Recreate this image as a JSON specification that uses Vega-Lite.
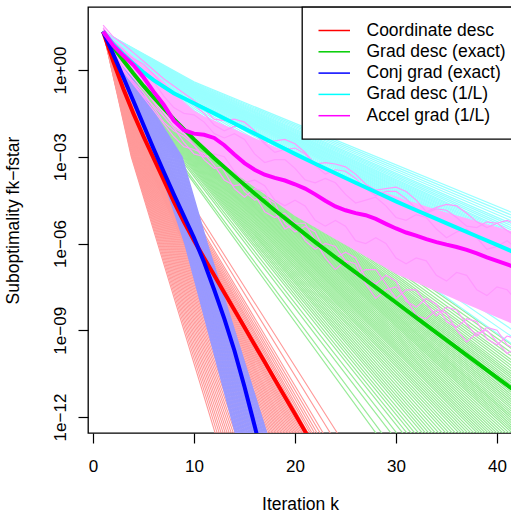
{
"$schema": "https://vega.github.io/schema/vega-lite/v6.json",
"width": 429, "height": 426,
"autosize": {"type": "none"},
"padding": {"left": 88, "top": 7, "right": -6, "bottom": 81},
"background": "white",
"config": {
 "view": {"stroke": "black", "strokeWidth": 1.3},
 "font": "Liberation Sans",
 "axis": {"labelFont": "Liberation Sans", "titleFont": "Liberation Sans", "labelColor": "black", "titleColor": "black", "tickColor": "black", "grid": false, "domain": false, "labelFontSize": 17, "titleFontSize": 17.5, "titleFontWeight": "normal", "tickSize": 10, "tickWidth": 1.2, "labelFlush": false, "labelOverlap": false, "labelBound": false},
 "legend": {"symbolType": "M-0.8,0H2.8", "symbolSize": 306, "symbolStrokeWidth": 1.5, "labelFont": "Liberation Sans", "labelFontSize": 17.5, "labelColor": "black", "labelLimit": 400, "padding": 14, "rowPadding": 3.3, "labelOffset": 31.5, "strokeColor": "black", "fillColor": "white", "cornerRadius": 0, "strokeWidth": 1.3}
},
"datasets": {
"cd": [
{"t":1,"k":1,"v":21.4},{"t":1,"k":3.79,"v":0.001},{"t":1,"k":12.48,"v":1e-13},
{"t":2,"k":1,"v":21.4},{"t":2,"k":3.89,"v":0.001},{"t":2,"k":12.90,"v":1e-13},
{"t":3,"k":1,"v":21.4},{"t":3,"k":3.99,"v":0.001},{"t":3,"k":13.31,"v":1e-13},
{"t":4,"k":1,"v":21.4},{"t":4,"k":4.09,"v":0.001},{"t":4,"k":13.72,"v":1e-13},
{"t":5,"k":1,"v":21.4},{"t":5,"k":4.19,"v":0.001},{"t":5,"k":14.14,"v":1e-13},
{"t":6,"k":1,"v":21.4},{"t":6,"k":4.29,"v":0.001},{"t":6,"k":14.55,"v":1e-13},
{"t":7,"k":1,"v":21.4},{"t":7,"k":4.39,"v":0.001},{"t":7,"k":14.97,"v":1e-13},
{"t":8,"k":1,"v":21.4},{"t":8,"k":4.49,"v":0.001},{"t":8,"k":15.38,"v":1e-13},
{"t":9,"k":1,"v":21.4},{"t":9,"k":4.59,"v":0.001},{"t":9,"k":15.79,"v":1e-13},
{"t":10,"k":1,"v":21.4},{"t":10,"k":4.69,"v":0.001},{"t":10,"k":16.21,"v":1e-13},
{"t":11,"k":1,"v":21.4},{"t":11,"k":4.79,"v":0.001},{"t":11,"k":16.62,"v":1e-13},
{"t":12,"k":1,"v":21.4},{"t":12,"k":4.89,"v":0.001},{"t":12,"k":17.03,"v":1e-13},
{"t":13,"k":1,"v":21.4},{"t":13,"k":4.99,"v":0.001},{"t":13,"k":17.45,"v":1e-13},
{"t":14,"k":1,"v":21.4},{"t":14,"k":5.09,"v":0.001},{"t":14,"k":17.86,"v":1e-13},
{"t":15,"k":1,"v":21.4},{"t":15,"k":5.17,"v":0.001},{"t":15,"k":18.17,"v":1e-13},
{"t":16,"k":1,"v":21.4},{"t":16,"k":5.25,"v":0.001},{"t":16,"k":18.48,"v":1e-13},
{"t":17,"k":1,"v":21.4},{"t":17,"k":5.32,"v":0.001},{"t":17,"k":18.79,"v":1e-13},
{"t":18,"k":1,"v":21.4},{"t":18,"k":5.40,"v":0.001},{"t":18,"k":19.10,"v":1e-13},
{"t":19,"k":1,"v":21.4},{"t":19,"k":5.47,"v":0.001},{"t":19,"k":19.41,"v":1e-13},
{"t":20,"k":1,"v":21.4},{"t":20,"k":5.55,"v":0.001},{"t":20,"k":19.72,"v":1e-13},
{"t":21,"k":1,"v":21.4},{"t":21,"k":5.62,"v":0.001},{"t":21,"k":20.03,"v":1e-13},
{"t":22,"k":1,"v":21.4},{"t":22,"k":5.70,"v":0.001},{"t":22,"k":20.35,"v":1e-13},
{"t":23,"k":1,"v":21.4},{"t":23,"k":5.77,"v":0.001},{"t":23,"k":20.66,"v":1e-13},
{"t":24,"k":1,"v":21.4},{"t":24,"k":5.85,"v":0.001},{"t":24,"k":20.97,"v":1e-13},
{"t":25,"k":1,"v":21.4},{"t":25,"k":5.92,"v":0.001},{"t":25,"k":21.28,"v":1e-13},
{"t":26,"k":1,"v":21.4},{"t":26,"k":6.00,"v":0.001},{"t":26,"k":21.59,"v":1e-13},
{"t":27,"k":1,"v":21.4},{"t":27,"k":6.10,"v":0.001},{"t":27,"k":22.00,"v":1e-13},
{"t":28,"k":1,"v":21.4},{"t":28,"k":6.20,"v":0.001},{"t":28,"k":22.41,"v":1e-13},
{"t":29,"k":1,"v":21.4},{"t":29,"k":6.33,"v":0.001},{"t":29,"k":22.93,"v":1e-13},
{"t":30,"k":1,"v":21.4},{"t":30,"k":6.48,"v":0.001},{"t":30,"k":23.55,"v":1e-13},
{"t":31,"k":1,"v":21.4},{"t":31,"k":6.65,"v":0.001},{"t":31,"k":24.28,"v":1e-13},
{"t":32,"k":1,"v":21.4},{"t":32,"k":6.83,"v":0.001},{"t":32,"k":25.00,"v":1e-13},
{"t":33,"k":1,"v":21.4},{"t":33,"k":3.84,"v":0.001},{"t":33,"k":12.69,"v":1e-13},
{"t":34,"k":1,"v":21.4},{"t":34,"k":3.94,"v":0.001},{"t":34,"k":13.10,"v":1e-13},
{"t":35,"k":1,"v":21.4},{"t":35,"k":4.04,"v":0.001},{"t":35,"k":13.52,"v":1e-13},
{"t":36,"k":1,"v":21.4},{"t":36,"k":4.14,"v":0.001},{"t":36,"k":13.93,"v":1e-13},
{"t":37,"k":1,"v":21.4},{"t":37,"k":4.24,"v":0.001},{"t":37,"k":14.35,"v":1e-13},
{"t":38,"k":1,"v":21.4},{"t":38,"k":4.34,"v":0.001},{"t":38,"k":14.76,"v":1e-13},
{"t":39,"k":1,"v":21.4},{"t":39,"k":4.44,"v":0.001},{"t":39,"k":15.17,"v":1e-13},
{"t":40,"k":1,"v":21.4},{"t":40,"k":4.54,"v":0.001},{"t":40,"k":15.59,"v":1e-13},
{"t":41,"k":1,"v":21.4},{"t":41,"k":4.64,"v":0.001},{"t":41,"k":16.00,"v":1e-13},
{"t":42,"k":1,"v":21.4},{"t":42,"k":4.74,"v":0.001},{"t":42,"k":16.41,"v":1e-13},
{"t":43,"k":1,"v":21.4},{"t":43,"k":4.84,"v":0.001},{"t":43,"k":16.83,"v":1e-13},
{"t":44,"k":1,"v":21.4},{"t":44,"k":4.94,"v":0.001},{"t":44,"k":17.24,"v":1e-13},
{"t":45,"k":1,"v":21.4},{"t":45,"k":5.04,"v":0.001},{"t":45,"k":17.66,"v":1e-13},
{"t":46,"k":1,"v":21.4},{"t":46,"k":5.13,"v":0.001},{"t":46,"k":18.02,"v":1e-13},
{"t":47,"k":1,"v":21.4},{"t":47,"k":5.21,"v":0.001},{"t":47,"k":18.33,"v":1e-13},
{"t":48,"k":1,"v":21.4},{"t":48,"k":5.28,"v":0.001},{"t":48,"k":18.64,"v":1e-13},
{"t":49,"k":1,"v":21.4},{"t":49,"k":5.36,"v":0.001},{"t":49,"k":18.95,"v":1e-13},
{"t":50,"k":1,"v":21.4},{"t":50,"k":5.43,"v":0.001},{"t":50,"k":19.26,"v":1e-13},
{"t":51,"k":1,"v":21.4},{"t":51,"k":5.51,"v":0.001},{"t":51,"k":19.57,"v":1e-13},
{"t":52,"k":1,"v":21.4},{"t":52,"k":5.58,"v":0.001},{"t":52,"k":19.88,"v":1e-13},
{"t":53,"k":1,"v":21.4},{"t":53,"k":5.66,"v":0.001},{"t":53,"k":20.19,"v":1e-13},
{"t":54,"k":1,"v":21.4},{"t":54,"k":5.74,"v":0.001},{"t":54,"k":20.50,"v":1e-13},
{"t":55,"k":1,"v":21.4},{"t":55,"k":5.81,"v":0.001},{"t":55,"k":20.81,"v":1e-13},
{"t":56,"k":1,"v":21.4},{"t":56,"k":5.89,"v":0.001},{"t":56,"k":21.12,"v":1e-13},
{"t":57,"k":1,"v":21.4},{"t":57,"k":5.96,"v":0.001},{"t":57,"k":21.43,"v":1e-13},
{"t":58,"k":1,"v":21.4},{"t":58,"k":6.05,"v":0.001},{"t":58,"k":21.79,"v":1e-13},
{"t":59,"k":1,"v":21.4},{"t":59,"k":6.15,"v":0.001},{"t":59,"k":22.21,"v":1e-13},
{"t":60,"k":1,"v":21.4},{"t":60,"k":6.26,"v":0.001},{"t":60,"k":22.67,"v":1e-13},
{"t":61,"k":1,"v":21.4},{"t":61,"k":6.40,"v":0.001},{"t":61,"k":23.24,"v":1e-13}
],
"gd": [
{"t":1,"k":1,"v":21.4},{"t":1,"k":6.76,"v":0.1},{"t":1,"k":55.74,"v":1e-13},
{"t":2,"k":1,"v":21.4},{"t":2,"k":6.60,"v":0.1},{"t":2,"k":54.22,"v":1e-13},
{"t":3,"k":1,"v":21.4},{"t":3,"k":6.47,"v":0.1},{"t":3,"k":52.98,"v":1e-13},
{"t":4,"k":1,"v":21.4},{"t":4,"k":6.37,"v":0.1},{"t":4,"k":52.00,"v":1e-13},
{"t":5,"k":1,"v":21.4},{"t":5,"k":6.27,"v":0.1},{"t":5,"k":51.04,"v":1e-13},
{"t":6,"k":1,"v":21.4},{"t":6,"k":6.19,"v":0.1},{"t":6,"k":50.31,"v":1e-13},
{"t":7,"k":1,"v":21.4},{"t":7,"k":6.12,"v":0.1},{"t":7,"k":49.59,"v":1e-13},
{"t":8,"k":1,"v":21.4},{"t":8,"k":6.04,"v":0.1},{"t":8,"k":48.90,"v":1e-13},
{"t":9,"k":1,"v":21.4},{"t":9,"k":5.97,"v":0.1},{"t":9,"k":48.23,"v":1e-13},
{"t":10,"k":1,"v":21.4},{"t":10,"k":5.90,"v":0.1},{"t":10,"k":47.57,"v":1e-13},
{"t":11,"k":1,"v":21.4},{"t":11,"k":5.84,"v":0.1},{"t":11,"k":46.93,"v":1e-13},
{"t":12,"k":1,"v":21.4},{"t":12,"k":5.77,"v":0.1},{"t":12,"k":46.31,"v":1e-13},
{"t":13,"k":1,"v":21.4},{"t":13,"k":5.71,"v":0.1},{"t":13,"k":45.71,"v":1e-13},
{"t":14,"k":1,"v":21.4},{"t":14,"k":5.64,"v":0.1},{"t":14,"k":45.12,"v":1e-13},
{"t":15,"k":1,"v":21.4},{"t":15,"k":5.58,"v":0.1},{"t":15,"k":44.55,"v":1e-13},
{"t":16,"k":1,"v":21.4},{"t":16,"k":5.53,"v":0.1},{"t":16,"k":43.99,"v":1e-13},
{"t":17,"k":1,"v":21.4},{"t":17,"k":5.47,"v":0.1},{"t":17,"k":43.44,"v":1e-13},
{"t":18,"k":1,"v":21.4},{"t":18,"k":5.41,"v":0.1},{"t":18,"k":42.91,"v":1e-13},
{"t":19,"k":1,"v":21.4},{"t":19,"k":5.34,"v":0.1},{"t":19,"k":42.27,"v":1e-13},
{"t":20,"k":1,"v":21.4},{"t":20,"k":5.28,"v":0.1},{"t":20,"k":41.64,"v":1e-13},
{"t":21,"k":1,"v":21.4},{"t":21,"k":5.21,"v":0.1},{"t":21,"k":41.04,"v":1e-13},
{"t":22,"k":1,"v":21.4},{"t":22,"k":5.15,"v":0.1},{"t":22,"k":40.45,"v":1e-13},
{"t":23,"k":1,"v":21.4},{"t":23,"k":5.09,"v":0.1},{"t":23,"k":39.88,"v":1e-13},
{"t":24,"k":1,"v":21.4},{"t":24,"k":5.03,"v":0.1},{"t":24,"k":39.32,"v":1e-13},
{"t":25,"k":1,"v":21.4},{"t":25,"k":4.97,"v":0.1},{"t":25,"k":38.67,"v":1e-13},
{"t":26,"k":1,"v":21.4},{"t":26,"k":4.90,"v":0.1},{"t":26,"k":38.05,"v":1e-13},
{"t":27,"k":1,"v":21.4},{"t":27,"k":4.84,"v":0.1},{"t":27,"k":37.45,"v":1e-13},
{"t":28,"k":1,"v":21.4},{"t":28,"k":4.77,"v":0.1},{"t":28,"k":36.77,"v":1e-13},
{"t":29,"k":1,"v":21.4},{"t":29,"k":4.70,"v":0.1},{"t":29,"k":36.11,"v":1e-13},
{"t":30,"k":1,"v":21.4},{"t":30,"k":4.62,"v":0.1},{"t":30,"k":35.39,"v":1e-13},
{"t":31,"k":1,"v":21.4},{"t":31,"k":4.55,"v":0.1},{"t":31,"k":34.70,"v":1e-13},
{"t":32,"k":1,"v":21.4},{"t":32,"k":4.48,"v":0.1},{"t":32,"k":34.03,"v":1e-13},
{"t":33,"k":1,"v":21.4},{"t":33,"k":4.40,"v":0.1},{"t":33,"k":33.32,"v":1e-13},
{"t":34,"k":1,"v":21.4},{"t":34,"k":4.32,"v":0.1},{"t":34,"k":32.56,"v":1e-13},
{"t":35,"k":1,"v":21.4},{"t":35,"k":4.23,"v":0.1},{"t":35,"k":31.69,"v":1e-13},
{"t":36,"k":1,"v":21.4},{"t":36,"k":4.10,"v":0.1},{"t":36,"k":30.48,"v":1e-13},
{"t":37,"k":1,"v":21.4},{"t":37,"k":4.00,"v":0.1},{"t":37,"k":29.54,"v":1e-13},
{"t":38,"k":1,"v":21.4},{"t":38,"k":3.94,"v":0.1},{"t":38,"k":28.94,"v":1e-13},
{"t":39,"k":1,"v":21.4},{"t":39,"k":6.68,"v":0.1},{"t":39,"k":54.97,"v":1e-13},
{"t":40,"k":1,"v":21.4},{"t":40,"k":6.54,"v":0.1},{"t":40,"k":53.60,"v":1e-13},
{"t":41,"k":1,"v":21.4},{"t":41,"k":6.42,"v":0.1},{"t":41,"k":52.49,"v":1e-13},
{"t":42,"k":1,"v":21.4},{"t":42,"k":6.32,"v":0.1},{"t":42,"k":51.52,"v":1e-13},
{"t":43,"k":1,"v":21.4},{"t":43,"k":6.23,"v":0.1},{"t":43,"k":50.67,"v":1e-13},
{"t":44,"k":1,"v":21.4},{"t":44,"k":6.15,"v":0.1},{"t":44,"k":49.95,"v":1e-13},
{"t":45,"k":1,"v":21.4},{"t":45,"k":6.08,"v":0.1},{"t":45,"k":49.24,"v":1e-13},
{"t":46,"k":1,"v":21.4},{"t":46,"k":6.01,"v":0.1},{"t":46,"k":48.56,"v":1e-13},
{"t":47,"k":1,"v":21.4},{"t":47,"k":5.94,"v":0.1},{"t":47,"k":47.90,"v":1e-13},
{"t":48,"k":1,"v":21.4},{"t":48,"k":5.87,"v":0.1},{"t":48,"k":47.25,"v":1e-13},
{"t":49,"k":1,"v":21.4},{"t":49,"k":5.80,"v":0.1},{"t":49,"k":46.62,"v":1e-13},
{"t":50,"k":1,"v":21.4},{"t":50,"k":5.74,"v":0.1},{"t":50,"k":46.01,"v":1e-13},
{"t":51,"k":1,"v":21.4},{"t":51,"k":5.68,"v":0.1},{"t":51,"k":45.41,"v":1e-13},
{"t":52,"k":1,"v":21.4},{"t":52,"k":5.61,"v":0.1},{"t":52,"k":44.83,"v":1e-13},
{"t":53,"k":1,"v":21.4},{"t":53,"k":5.55,"v":0.1},{"t":53,"k":44.26,"v":1e-13},
{"t":54,"k":1,"v":21.4},{"t":54,"k":5.50,"v":0.1},{"t":54,"k":43.71,"v":1e-13},
{"t":55,"k":1,"v":21.4},{"t":55,"k":5.44,"v":0.1},{"t":55,"k":43.18,"v":1e-13},
{"t":56,"k":1,"v":21.4},{"t":56,"k":5.38,"v":0.1},{"t":56,"k":42.59,"v":1e-13},
{"t":57,"k":1,"v":21.4},{"t":57,"k":5.31,"v":0.1},{"t":57,"k":41.95,"v":1e-13},
{"t":58,"k":1,"v":21.4},{"t":58,"k":5.25,"v":0.1},{"t":58,"k":41.34,"v":1e-13},
{"t":59,"k":1,"v":21.4},{"t":59,"k":5.18,"v":0.1},{"t":59,"k":40.74,"v":1e-13},
{"t":60,"k":1,"v":21.4},{"t":60,"k":5.12,"v":0.1},{"t":60,"k":40.16,"v":1e-13},
{"t":61,"k":1,"v":21.4},{"t":61,"k":5.06,"v":0.1},{"t":61,"k":39.60,"v":1e-13},
{"t":62,"k":1,"v":21.4},{"t":62,"k":5.00,"v":0.1},{"t":62,"k":38.99,"v":1e-13},
{"t":63,"k":1,"v":21.4},{"t":63,"k":4.93,"v":0.1},{"t":63,"k":38.36,"v":1e-13},
{"t":64,"k":1,"v":21.4},{"t":64,"k":4.87,"v":0.1},{"t":64,"k":37.75,"v":1e-13},
{"t":65,"k":1,"v":21.4},{"t":65,"k":4.80,"v":0.1},{"t":65,"k":37.10,"v":1e-13},
{"t":66,"k":1,"v":21.4},{"t":66,"k":4.73,"v":0.1},{"t":66,"k":36.43,"v":1e-13},
{"t":67,"k":1,"v":21.4},{"t":67,"k":4.66,"v":0.1},{"t":67,"k":35.75,"v":1e-13},
{"t":68,"k":1,"v":21.4},{"t":68,"k":4.58,"v":0.1},{"t":68,"k":35.04,"v":1e-13},
{"t":69,"k":1,"v":21.4},{"t":69,"k":4.51,"v":0.1},{"t":69,"k":34.36,"v":1e-13},
{"t":70,"k":1,"v":21.4},{"t":70,"k":4.44,"v":0.1},{"t":70,"k":33.71,"v":1e-13},
{"t":71,"k":1,"v":21.4},{"t":71,"k":4.36,"v":0.1},{"t":71,"k":32.93,"v":1e-13},
{"t":72,"k":1,"v":21.4},{"t":72,"k":4.28,"v":0.1},{"t":72,"k":32.12,"v":1e-13},
{"t":73,"k":1,"v":21.4},{"t":73,"k":4.17,"v":0.1},{"t":73,"k":31.07,"v":1e-13}
],
"cg": [
{"t":1,"k":1,"v":21.4},{"t":1,"k":6.20,"v":0.001},{"t":1,"k":9.10,"v":1e-6},{"t":1,"k":14.44,"v":1e-13},
{"t":2,"k":1,"v":21.4},{"t":2,"k":6.39,"v":0.001},{"t":2,"k":9.26,"v":1e-6},{"t":2,"k":14.66,"v":1e-13},
{"t":3,"k":1,"v":21.4},{"t":3,"k":6.57,"v":0.001},{"t":3,"k":9.41,"v":1e-6},{"t":3,"k":14.89,"v":1e-13},
{"t":4,"k":1,"v":21.4},{"t":4,"k":6.76,"v":0.001},{"t":4,"k":9.57,"v":1e-6},{"t":4,"k":15.12,"v":1e-13},
{"t":5,"k":1,"v":21.4},{"t":5,"k":6.94,"v":0.001},{"t":5,"k":9.73,"v":1e-6},{"t":5,"k":15.34,"v":1e-13},
{"t":6,"k":1,"v":21.4},{"t":6,"k":7.13,"v":0.001},{"t":6,"k":9.89,"v":1e-6},{"t":6,"k":15.57,"v":1e-13},
{"t":7,"k":1,"v":21.4},{"t":7,"k":7.31,"v":0.001},{"t":7,"k":10.04,"v":1e-6},{"t":7,"k":15.80,"v":1e-13},
{"t":8,"k":1,"v":21.4},{"t":8,"k":7.50,"v":0.001},{"t":8,"k":10.20,"v":1e-6},{"t":8,"k":16.02,"v":1e-13},
{"t":9,"k":1,"v":21.4},{"t":9,"k":7.68,"v":0.001},{"t":9,"k":10.36,"v":1e-6},{"t":9,"k":16.24,"v":1e-13},
{"t":10,"k":1,"v":21.4},{"t":10,"k":7.87,"v":0.001},{"t":10,"k":10.51,"v":1e-6},{"t":10,"k":16.47,"v":1e-13},
{"t":11,"k":1,"v":21.4},{"t":11,"k":8.06,"v":0.001},{"t":11,"k":10.67,"v":1e-6},{"t":11,"k":16.70,"v":1e-13},
{"t":12,"k":1,"v":21.4},{"t":12,"k":8.24,"v":0.001},{"t":12,"k":10.83,"v":1e-6},{"t":12,"k":16.92,"v":1e-13},
{"t":13,"k":1,"v":21.4},{"t":13,"k":8.43,"v":0.001},{"t":13,"k":10.99,"v":1e-6},{"t":13,"k":17.15,"v":1e-13},
{"t":14,"k":1,"v":21.4},{"t":14,"k":8.61,"v":0.001},{"t":14,"k":11.14,"v":1e-6},{"t":14,"k":17.38,"v":1e-13},
{"t":15,"k":1,"v":21.4},{"t":15,"k":8.80,"v":0.001},{"t":15,"k":11.30,"v":1e-6},{"t":15,"k":17.60,"v":1e-13},
{"t":16,"k":1,"v":21.4},{"t":16,"k":6.29,"v":0.001},{"t":16,"k":9.18,"v":1e-6},{"t":16,"k":14.55,"v":1e-13},
{"t":17,"k":1,"v":21.4},{"t":17,"k":6.48,"v":0.001},{"t":17,"k":9.34,"v":1e-6},{"t":17,"k":14.78,"v":1e-13},
{"t":18,"k":1,"v":21.4},{"t":18,"k":6.67,"v":0.001},{"t":18,"k":9.49,"v":1e-6},{"t":18,"k":15.01,"v":1e-13},
{"t":19,"k":1,"v":21.4},{"t":19,"k":6.85,"v":0.001},{"t":19,"k":9.65,"v":1e-6},{"t":19,"k":15.23,"v":1e-13},
{"t":20,"k":1,"v":21.4},{"t":20,"k":7.03,"v":0.001},{"t":20,"k":9.81,"v":1e-6},{"t":20,"k":15.45,"v":1e-13},
{"t":21,"k":1,"v":21.4},{"t":21,"k":7.22,"v":0.001},{"t":21,"k":9.96,"v":1e-6},{"t":21,"k":15.68,"v":1e-13},
{"t":22,"k":1,"v":21.4},{"t":22,"k":7.41,"v":0.001},{"t":22,"k":10.12,"v":1e-6},{"t":22,"k":15.91,"v":1e-13},
{"t":23,"k":1,"v":21.4},{"t":23,"k":7.59,"v":0.001},{"t":23,"k":10.28,"v":1e-6},{"t":23,"k":16.13,"v":1e-13},
{"t":24,"k":1,"v":21.4},{"t":24,"k":7.78,"v":0.001},{"t":24,"k":10.44,"v":1e-6},{"t":24,"k":16.36,"v":1e-13},
{"t":25,"k":1,"v":21.4},{"t":25,"k":7.97,"v":0.001},{"t":25,"k":10.59,"v":1e-6},{"t":25,"k":16.59,"v":1e-13},
{"t":26,"k":1,"v":21.4},{"t":26,"k":8.15,"v":0.001},{"t":26,"k":10.75,"v":1e-6},{"t":26,"k":16.81,"v":1e-13},
{"t":27,"k":1,"v":21.4},{"t":27,"k":8.33,"v":0.001},{"t":27,"k":10.91,"v":1e-6},{"t":27,"k":17.03,"v":1e-13},
{"t":28,"k":1,"v":21.4},{"t":28,"k":8.52,"v":0.001},{"t":28,"k":11.06,"v":1e-6},{"t":28,"k":17.26,"v":1e-13},
{"t":29,"k":1,"v":21.4},{"t":29,"k":8.71,"v":0.001},{"t":29,"k":11.22,"v":1e-6},{"t":29,"k":17.49,"v":1e-13}
],
"gdl": [
{"t":1,"k":1,"v":21.4},{"t":1,"k":10,"v":0.389},{"t":1,"k":42,"v":1e-5},
{"t":2,"k":1,"v":21.4},{"t":2,"k":10,"v":0.339},{"t":2,"k":42,"v":6.31e-6},
{"t":3,"k":1,"v":21.4},{"t":3,"k":10,"v":0.302},{"t":3,"k":42,"v":3.98e-6},
{"t":4,"k":1,"v":21.4},{"t":4,"k":10,"v":0.275},{"t":4,"k":42,"v":2.82e-6},
{"t":5,"k":1,"v":21.4},{"t":5,"k":10,"v":0.251},{"t":5,"k":42,"v":2.0e-6},
{"t":6,"k":1,"v":21.4},{"t":6,"k":10,"v":0.234},{"t":6,"k":42,"v":1.585e-6},
{"t":7,"k":1,"v":21.4},{"t":7,"k":10,"v":0.219},{"t":7,"k":42,"v":1.26e-6},
{"t":8,"k":1,"v":21.4},{"t":8,"k":10,"v":0.204},{"t":8,"k":42,"v":1e-6},
{"t":9,"k":1,"v":21.4},{"t":9,"k":10,"v":0.191},{"t":9,"k":42,"v":7.94e-7},
{"t":10,"k":1,"v":21.4},{"t":10,"k":10,"v":0.182},{"t":10,"k":42,"v":6.31e-7},
{"t":11,"k":1,"v":21.4},{"t":11,"k":10,"v":0.170},{"t":11,"k":42,"v":5.01e-7},
{"t":12,"k":1,"v":21.4},{"t":12,"k":10,"v":0.158},{"t":12,"k":42,"v":3.98e-7},
{"t":13,"k":1,"v":21.4},{"t":13,"k":10,"v":0.151},{"t":13,"k":42,"v":3.16e-7},
{"t":14,"k":1,"v":21.4},{"t":14,"k":10,"v":0.141},{"t":14,"k":42,"v":2.51e-7},
{"t":15,"k":1,"v":21.4},{"t":15,"k":10,"v":0.129},{"t":15,"k":42,"v":1.78e-7},
{"t":16,"k":1,"v":21.4},{"t":16,"k":10,"v":0.115},{"t":16,"k":42,"v":1.26e-7},
{"t":17,"k":1,"v":21.4},{"t":17,"k":10,"v":0.102},{"t":17,"k":42,"v":7.94e-8},
{"t":18,"k":1,"v":21.4},{"t":18,"k":10,"v":0.0871},{"t":18,"k":42,"v":4.47e-8},
{"t":19,"k":1,"v":21.4},{"t":19,"k":10,"v":0.0692},{"t":19,"k":42,"v":2.0e-8},
{"t":20,"k":1,"v":21.4},{"t":20,"k":10,"v":0.0537},{"t":20,"k":42,"v":7.94e-9},
{"t":21,"k":1,"v":21.4},{"t":21,"k":10,"v":0.0398},{"t":21,"k":42,"v":2.51e-9},
{"t":22,"k":1,"v":21.4},{"t":22,"k":10,"v":0.0288},{"t":22,"k":42,"v":7.94e-10},
{"t":23,"k":1,"v":21.4},{"t":23,"k":10,"v":0.0209},{"t":23,"k":42,"v":2.51e-10},
{"t":24,"k":1,"v":21.4},{"t":24,"k":10,"v":0.363},{"t":24,"k":42,"v":7.94e-6},
{"t":25,"k":1,"v":21.4},{"t":25,"k":10,"v":0.320},{"t":25,"k":42,"v":5.01e-6},
{"t":26,"k":1,"v":21.4},{"t":26,"k":10,"v":0.288},{"t":26,"k":42,"v":3.39e-6},
{"t":27,"k":1,"v":21.4},{"t":27,"k":10,"v":0.261},{"t":27,"k":42,"v":2.40e-6},
{"t":28,"k":1,"v":21.4},{"t":28,"k":10,"v":0.241},{"t":28,"k":42,"v":1.78e-6},
{"t":29,"k":1,"v":21.4},{"t":29,"k":10,"v":0.226},{"t":29,"k":42,"v":1.41e-6},
{"t":30,"k":1,"v":21.4},{"t":30,"k":10,"v":0.212},{"t":30,"k":42,"v":1.12e-6},
{"t":31,"k":1,"v":21.4},{"t":31,"k":10,"v":0.199},{"t":31,"k":42,"v":8.91e-7},
{"t":32,"k":1,"v":21.4},{"t":32,"k":10,"v":0.187},{"t":32,"k":42,"v":7.08e-7},
{"t":33,"k":1,"v":21.4},{"t":33,"k":10,"v":0.175},{"t":33,"k":42,"v":5.62e-7},
{"t":34,"k":1,"v":21.4},{"t":34,"k":10,"v":0.164},{"t":34,"k":42,"v":4.47e-7},
{"t":35,"k":1,"v":21.4},{"t":35,"k":10,"v":0.155},{"t":35,"k":42,"v":3.55e-7},
{"t":36,"k":1,"v":21.4},{"t":36,"k":10,"v":0.145},{"t":36,"k":42,"v":2.82e-7},
{"t":37,"k":1,"v":21.4},{"t":37,"k":10,"v":0.134},{"t":37,"k":42,"v":2.14e-7},
{"t":38,"k":1,"v":21.4},{"t":38,"k":10,"v":0.122},{"t":38,"k":42,"v":1.51e-7},
{"t":39,"k":1,"v":21.4},{"t":39,"k":10,"v":0.109},{"t":39,"k":42,"v":1e-7},
{"t":40,"k":1,"v":21.4},{"t":40,"k":10,"v":0.0962},{"t":40,"k":42,"v":6.31e-8},
{"t":41,"k":1,"v":21.4},{"t":41,"k":10,"v":0.0794},{"t":41,"k":42,"v":3.16e-8},
{"t":42,"k":1,"v":21.4},{"t":42,"k":10,"v":0.0617},{"t":42,"k":42,"v":1.26e-8},
{"t":43,"k":1,"v":21.4},{"t":43,"k":10,"v":0.0463},{"t":43,"k":42,"v":4.47e-9},
{"t":44,"k":1,"v":21.4},{"t":44,"k":10,"v":0.0337},{"t":44,"k":42,"v":1.41e-9},
{"t":45,"k":1,"v":21.4},{"t":45,"k":10,"v":0.0246},{"t":45,"k":42,"v":4.47e-10}
],
"agb": [
{"k":1,"v":15.8,"v2":31.6},{"k":2,"v":3.55,"v2":11.2},{"k":3,"v":1.26,"v2":5.62},{"k":4,"v":0.501,"v2":2.82},
{"k":5,"v":0.2,"v2":1.41},{"k":6,"v":0.0794,"v2":0.794},{"k":7,"v":0.0316,"v2":0.398},{"k":8,"v":0.0112,"v2":0.178},
{"k":9,"v":6.31e-3,"v2":0.0794},{"k":10,"v":3.16e-3,"v2":0.0398},{"k":11,"v":1.585e-3,"v2":0.0251},{"k":12,"v":8.91e-4,"v2":0.0178},
{"k":13,"v":5.01e-4,"v2":0.0126},{"k":14,"v":2.82e-4,"v2":8.91e-3},{"k":15,"v":1.585e-4,"v2":6.31e-3},{"k":16,"v":8.91e-5,"v2":4.47e-3},
{"k":17,"v":5.01e-5,"v2":3.16e-3},{"k":18,"v":2.82e-5,"v2":2.24e-3},{"k":19,"v":1.585e-5,"v2":1.585e-3},{"k":20,"v":8.91e-6,"v2":1.12e-3},
{"k":21,"v":5.62e-6,"v2":7.94e-4},{"k":22,"v":3.55e-6,"v2":5.62e-4},{"k":23,"v":2.24e-6,"v2":3.98e-4},{"k":24,"v":1.41e-6,"v2":2.82e-4},
{"k":25,"v":8.91e-7,"v2":2.0e-4},{"k":26,"v":5.62e-7,"v2":1.41e-4},{"k":27,"v":3.55e-7,"v2":1e-4},{"k":28,"v":2.24e-7,"v2":7.59e-5},
{"k":29,"v":1.41e-7,"v2":5.62e-5},{"k":30,"v":8.91e-8,"v2":4.27e-5},{"k":31,"v":6.31e-8,"v2":3.16e-5},{"k":32,"v":4.47e-8,"v2":2.51e-5},
{"k":33,"v":3.16e-8,"v2":1.905e-5},{"k":34,"v":2.24e-8,"v2":1.51e-5},{"k":35,"v":1.585e-8,"v2":1.175e-5},{"k":36,"v":1.12e-8,"v2":9.33e-6},
{"k":37,"v":7.94e-9,"v2":7.41e-6},{"k":38,"v":5.62e-9,"v2":5.89e-6},{"k":39,"v":3.98e-9,"v2":4.68e-6},{"k":40,"v":2.82e-9,"v2":3.72e-6},
{"k":41,"v":2.0e-9,"v2":2.95e-6},{"k":42,"v":1.41e-9,"v2":2.34e-6}
],
"ag": [
{"t":1,"k":1,"v":35.5},{"t":1,"k":2,"v":14.1},{"t":1,"k":3,"v":7.94},{"t":1,"k":4,"v":3.98},{"t":1,"k":5,"v":2.0},{"t":1,"k":6,"v":1.0},{"t":1,"k":7,"v":0.501},{"t":1,"k":8,"v":0.282},{"t":1,"k":9,"v":0.158},{"t":1,"k":10,"v":0.0891},{"t":1,"k":11,"v":0.0447},{"t":1,"k":12,"v":0.02},{"t":1,"k":13,"v":0.0178},{"t":1,"k":14,"v":0.02},{"t":1,"k":15,"v":0.0158},{"t":1,"k":16,"v":7.94e-3},{"t":1,"k":17,"v":3.16e-3},{"t":1,"k":18,"v":3.55e-3},{"t":1,"k":19,"v":3.98e-3},{"t":1,"k":20,"v":2.82e-3},{"t":1,"k":21,"v":1.41e-3},{"t":1,"k":22,"v":5.62e-4},{"t":1,"k":23,"v":6.31e-4},{"t":1,"k":24,"v":5.62e-4},{"t":1,"k":25,"v":4.47e-4},{"t":1,"k":26,"v":2.51e-4},{"t":1,"k":27,"v":1.12e-4},{"t":1,"k":28,"v":7.08e-5},{"t":1,"k":29,"v":7.94e-5},{"t":1,"k":30,"v":8.91e-5},{"t":1,"k":31,"v":6.31e-5},{"t":1,"k":32,"v":3.16e-5},{"t":1,"k":33,"v":1.26e-5},{"t":1,"k":34,"v":1.78e-5},{"t":1,"k":35,"v":2.24e-5},{"t":1,"k":36,"v":2.0e-5},{"t":1,"k":37,"v":1.12e-5},{"t":1,"k":38,"v":5.62e-6},{"t":1,"k":39,"v":3.55e-6},{"t":1,"k":40,"v":5.01e-6},{"t":1,"k":41,"v":6.31e-6},{"t":1,"k":42,"v":4.47e-6},
{"t":2,"k":1,"v":28.2},{"t":2,"k":2,"v":10},{"t":2,"k":3,"v":4.47},{"t":2,"k":4,"v":2.51},{"t":2,"k":5,"v":1.58},{"t":2,"k":6,"v":0.708},{"t":2,"k":7,"v":0.282},{"t":2,"k":8,"v":0.141},{"t":2,"k":9,"v":0.1},{"t":2,"k":10,"v":0.0631},{"t":2,"k":11,"v":0.0316},{"t":2,"k":12,"v":0.0126},{"t":2,"k":13,"v":7.94e-3},{"t":2,"k":14,"v":0.0112},{"t":2,"k":15,"v":0.0112},{"t":2,"k":16,"v":6.31e-3},{"t":2,"k":17,"v":2.82e-3},{"t":2,"k":18,"v":1.41e-3},{"t":2,"k":19,"v":1.78e-3},{"t":2,"k":20,"v":2.0e-3},{"t":2,"k":21,"v":1.26e-3},{"t":2,"k":22,"v":5.01e-4},{"t":2,"k":23,"v":2.51e-4},{"t":2,"k":24,"v":3.55e-4},{"t":2,"k":25,"v":3.16e-4},{"t":2,"k":26,"v":1.78e-4},{"t":2,"k":27,"v":7.94e-5},{"t":2,"k":28,"v":4.47e-5},{"t":2,"k":29,"v":6.31e-5},{"t":2,"k":30,"v":6.31e-5},{"t":2,"k":31,"v":3.55e-5},{"t":2,"k":32,"v":1.58e-5},{"t":2,"k":33,"v":1.12e-5},{"t":2,"k":34,"v":1.58e-5},{"t":2,"k":35,"v":1.41e-5},{"t":2,"k":36,"v":7.94e-6},{"t":2,"k":37,"v":3.98e-6},{"t":2,"k":38,"v":3.55e-6},{"t":2,"k":39,"v":5.62e-6},{"t":2,"k":40,"v":5.01e-6},{"t":2,"k":41,"v":2.82e-6},{"t":2,"k":42,"v":1.58e-6},
{"t":3,"k":1,"v":17.8},{"t":3,"k":2,"v":3.16},{"t":3,"k":3,"v":0.891},{"t":3,"k":4,"v":0.316},{"t":3,"k":5,"v":0.112},{"t":3,"k":6,"v":0.0398},{"t":3,"k":7,"v":0.0141},{"t":3,"k":8,"v":5.01e-3},{"t":3,"k":9,"v":2.24e-3},{"t":3,"k":10,"v":1.78e-3},{"t":3,"k":11,"v":1.26e-3},{"t":3,"k":12,"v":5.01e-4},{"t":3,"k":13,"v":1.58e-4},{"t":3,"k":14,"v":1e-4},{"t":3,"k":15,"v":1.12e-4},{"t":3,"k":16,"v":5.01e-5},{"t":3,"k":17,"v":1.26e-5},{"t":3,"k":18,"v":7.94e-6},{"t":3,"k":19,"v":1.12e-5},{"t":3,"k":20,"v":5.01e-6},{"t":3,"k":21,"v":1.26e-6},{"t":3,"k":22,"v":6.31e-7},{"t":3,"k":23,"v":1e-6},{"t":3,"k":24,"v":7.94e-7},{"t":3,"k":25,"v":2.51e-7},{"t":3,"k":26,"v":7.94e-8},{"t":3,"k":27,"v":1.26e-7},{"t":3,"k":28,"v":1.26e-7},{"t":3,"k":29,"v":3.98e-8},{"t":3,"k":30,"v":1.26e-8},{"t":3,"k":31,"v":2.51e-8},{"t":3,"k":32,"v":2.51e-8},{"t":3,"k":33,"v":7.94e-9},{"t":3,"k":34,"v":3.16e-9},{"t":3,"k":35,"v":6.31e-9},{"t":3,"k":36,"v":5.01e-9},{"t":3,"k":37,"v":1.58e-9},{"t":3,"k":38,"v":6.31e-10},{"t":3,"k":39,"v":1.26e-9},{"t":3,"k":40,"v":1e-9},{"t":3,"k":41,"v":3.16e-10},{"t":3,"k":42,"v":2.0e-10},
{"t":4,"k":1,"v":20},{"t":4,"k":2,"v":3.98},{"t":4,"k":3,"v":1},{"t":4,"k":4,"v":0.398},{"t":4,"k":5,"v":0.158},{"t":4,"k":6,"v":0.0501},{"t":4,"k":7,"v":0.0158},{"t":4,"k":8,"v":7.94e-3},{"t":4,"k":9,"v":5.01e-3},{"t":4,"k":10,"v":2.51e-3},{"t":4,"k":11,"v":7.94e-4},{"t":4,"k":12,"v":3.98e-4},{"t":4,"k":13,"v":4.47e-4},{"t":4,"k":14,"v":2.51e-4},{"t":4,"k":15,"v":6.31e-5},{"t":4,"k":16,"v":3.16e-5},{"t":4,"k":17,"v":3.98e-5},{"t":4,"k":18,"v":2.51e-5},{"t":4,"k":19,"v":5.01e-6},{"t":4,"k":20,"v":2.51e-6},{"t":4,"k":21,"v":3.98e-6},{"t":4,"k":22,"v":2.51e-6},{"t":4,"k":23,"v":5.01e-7},{"t":4,"k":24,"v":3.16e-7},{"t":4,"k":25,"v":5.01e-7},{"t":4,"k":26,"v":3.16e-7},{"t":4,"k":27,"v":6.31e-8},{"t":4,"k":28,"v":3.98e-8},{"t":4,"k":29,"v":7.94e-8},{"t":4,"k":30,"v":5.01e-8},{"t":4,"k":31,"v":1e-8},{"t":4,"k":32,"v":6.31e-9},{"t":4,"k":33,"v":1.26e-8},{"t":4,"k":34,"v":7.94e-9},{"t":4,"k":35,"v":2.0e-9},{"t":4,"k":36,"v":1.26e-9},{"t":4,"k":37,"v":2.51e-9},{"t":4,"k":38,"v":2.0e-9},{"t":4,"k":39,"v":5.01e-10},{"t":4,"k":40,"v":3.16e-10},{"t":4,"k":41,"v":6.31e-10},{"t":4,"k":42,"v":5.01e-10},
{"t":5,"k":1,"v":19.1},{"t":5,"k":2,"v":3.55},{"t":5,"k":3,"v":1.12},{"t":5,"k":4,"v":0.355},{"t":5,"k":5,"v":0.126},{"t":5,"k":6,"v":0.0562},{"t":5,"k":7,"v":0.0251},{"t":5,"k":8,"v":0.01},{"t":5,"k":9,"v":3.16e-3},{"t":5,"k":10,"v":1.26e-3},{"t":5,"k":11,"v":1e-3},{"t":5,"k":12,"v":1e-3},{"t":5,"k":13,"v":3.16e-4},{"t":5,"k":14,"v":7.94e-5},{"t":5,"k":15,"v":3.98e-5},{"t":5,"k":16,"v":7.94e-5},{"t":5,"k":17,"v":6.31e-5},{"t":5,"k":18,"v":1.26e-5},{"t":5,"k":19,"v":3.16e-6},{"t":5,"k":20,"v":5.01e-6},{"t":5,"k":21,"v":5.01e-6},{"t":5,"k":22,"v":1.26e-6},{"t":5,"k":23,"v":3.16e-7},{"t":5,"k":24,"v":1.26e-7},{"t":5,"k":25,"v":2.51e-7},{"t":5,"k":26,"v":2.0e-7},{"t":5,"k":27,"v":3.98e-8},{"t":5,"k":28,"v":1.26e-8},{"t":5,"k":29,"v":2.51e-8},{"t":5,"k":30,"v":3.16e-8},{"t":5,"k":31,"v":1.26e-8},{"t":5,"k":32,"v":3.16e-9},{"t":5,"k":33,"v":2.51e-9},{"t":5,"k":34,"v":5.01e-9},{"t":5,"k":35,"v":3.98e-9},{"t":5,"k":36,"v":1e-9},{"t":5,"k":37,"v":3.98e-10},{"t":5,"k":38,"v":7.94e-10},{"t":5,"k":39,"v":1e-9},{"t":5,"k":40,"v":3.98e-10},{"t":5,"k":41,"v":1.58e-10},{"t":5,"k":42,"v":2.51e-10},
{"t":6,"k":1,"v":25.1},{"t":6,"k":2,"v":10},{"t":6,"k":3,"v":5.01},{"t":6,"k":4,"v":2.24},{"t":6,"k":5,"v":0.891},{"t":6,"k":6,"v":0.398},{"t":6,"k":7,"v":0.126},{"t":6,"k":8,"v":0.0501},{"t":6,"k":9,"v":0.0316},{"t":6,"k":10,"v":0.0282},{"t":6,"k":11,"v":0.0158},{"t":6,"k":12,"v":6.31e-3},{"t":6,"k":13,"v":4.47e-3},{"t":6,"k":14,"v":6.31e-3},{"t":6,"k":15,"v":3.98e-3},{"t":6,"k":16,"v":1.26e-3},{"t":6,"k":17,"v":6.31e-4},{"t":6,"k":18,"v":7.94e-4},{"t":6,"k":19,"v":7.94e-4},{"t":6,"k":20,"v":3.98e-4},{"t":6,"k":21,"v":1.58e-4},{"t":6,"k":22,"v":1.26e-4},{"t":6,"k":23,"v":1.78e-4},{"t":6,"k":24,"v":1.26e-4},{"t":6,"k":25,"v":5.01e-5},{"t":6,"k":26,"v":2.51e-5},{"t":6,"k":27,"v":3.16e-5},{"t":6,"k":28,"v":3.98e-5},{"t":6,"k":29,"v":2.0e-5},{"t":6,"k":30,"v":7.94e-6},{"t":6,"k":31,"v":6.31e-6},{"t":6,"k":32,"v":1e-5},{"t":6,"k":33,"v":7.94e-6},{"t":6,"k":34,"v":3.16e-6},{"t":6,"k":35,"v":1.58e-6},{"t":6,"k":36,"v":2.51e-6},{"t":6,"k":37,"v":3.16e-6},{"t":6,"k":38,"v":1.58e-6},{"t":6,"k":39,"v":6.31e-7},{"t":6,"k":40,"v":7.94e-7},{"t":6,"k":41,"v":1.26e-6},{"t":6,"k":42,"v":6.31e-7},
{"t":7,"k":1,"v":20},{"t":7,"k":2,"v":5.01},{"t":7,"k":3,"v":2.0},{"t":7,"k":4,"v":0.794},{"t":7,"k":5,"v":0.251},{"t":7,"k":6,"v":0.0794},{"t":7,"k":7,"v":0.0251},{"t":7,"k":8,"v":0.01},{"t":7,"k":9,"v":6.31e-3},{"t":7,"k":10,"v":2.51e-3},{"t":7,"k":11,"v":1e-3},{"t":7,"k":12,"v":1.26e-3},{"t":7,"k":13,"v":1e-3},{"t":7,"k":14,"v":3.16e-4},{"t":7,"k":15,"v":1.26e-4},{"t":7,"k":16,"v":1.58e-4},{"t":7,"k":17,"v":1e-4},{"t":7,"k":18,"v":3.16e-5},{"t":7,"k":19,"v":2.0e-5},{"t":7,"k":20,"v":3.16e-5},{"t":7,"k":21,"v":2.0e-5},{"t":7,"k":22,"v":6.31e-6},{"t":7,"k":23,"v":3.98e-6},{"t":7,"k":24,"v":6.31e-6},{"t":7,"k":25,"v":3.98e-6},{"t":7,"k":26,"v":1.26e-6},{"t":7,"k":27,"v":1e-6},{"t":7,"k":28,"v":1.58e-6},{"t":7,"k":29,"v":1e-6},{"t":7,"k":30,"v":3.16e-7},{"t":7,"k":31,"v":2.0e-7},{"t":7,"k":32,"v":3.16e-7},{"t":7,"k":33,"v":2.51e-7},{"t":7,"k":34,"v":7.94e-8},{"t":7,"k":35,"v":5.01e-8},{"t":7,"k":36,"v":1e-7},{"t":7,"k":37,"v":7.94e-8},{"t":7,"k":38,"v":2.51e-8},{"t":7,"k":39,"v":1.58e-8},{"t":7,"k":40,"v":3.16e-8},{"t":7,"k":41,"v":2.51e-8},{"t":7,"k":42,"v":1e-8}
],
"mcd": [
{"m":"Coordinate desc","k":1,"v":21.4},{"m":"Coordinate desc","k":2,"v":2.0},{"m":"Coordinate desc","k":3,"v":0.224},{"m":"Coordinate desc","k":4,"v":0.0316},{"m":"Coordinate desc","k":5,"v":5.01e-3},{"m":"Coordinate desc","k":6,"v":8.91e-4},{"m":"Coordinate desc","k":7,"v":1.585e-4},{"m":"Coordinate desc","k":8,"v":2.82e-5},{"m":"Coordinate desc","k":9,"v":5.62e-6},{"m":"Coordinate desc","k":10,"v":1.26e-6},{"m":"Coordinate desc","k":11,"v":3.16e-7},{"m":"Coordinate desc","k":12,"v":7.94e-8},{"m":"Coordinate desc","k":13,"v":2.0e-8},{"m":"Coordinate desc","k":14,"v":5.01e-9},{"m":"Coordinate desc","k":15,"v":1.26e-9},{"m":"Coordinate desc","k":16,"v":3.16e-10},{"m":"Coordinate desc","k":17,"v":7.94e-11},{"m":"Coordinate desc","k":18,"v":2.0e-11},{"m":"Coordinate desc","k":19,"v":5.01e-12},{"m":"Coordinate desc","k":20,"v":1.26e-12},{"m":"Coordinate desc","k":21,"v":3.16e-13},{"m":"Coordinate desc","k":22,"v":7.94e-14}
],
"mgd": [
{"m":"Grad desc (exact)","k":1,"v":21.4},{"m":"Grad desc (exact)","k":2,"v":6.31},{"m":"Grad desc (exact)","k":3,"v":2.14},{"m":"Grad desc (exact)","k":4,"v":0.759},{"m":"Grad desc (exact)","k":5,"v":0.282},{"m":"Grad desc (exact)","k":6,"v":0.112},{"m":"Grad desc (exact)","k":7,"v":0.0468},{"m":"Grad desc (exact)","k":8,"v":0.02},{"m":"Grad desc (exact)","k":10,"v":3.98e-3},{"m":"Grad desc (exact)","k":12,"v":8.91e-4},{"m":"Grad desc (exact)","k":14,"v":2.14e-4},{"m":"Grad desc (exact)","k":16,"v":5.37e-5},{"m":"Grad desc (exact)","k":18,"v":1.41e-5},{"m":"Grad desc (exact)","k":20,"v":3.98e-6},{"m":"Grad desc (exact)","k":22,"v":1.12e-6},{"m":"Grad desc (exact)","k":24,"v":3.31e-7},{"m":"Grad desc (exact)","k":26,"v":1.0e-7},{"m":"Grad desc (exact)","k":28,"v":3.02e-8},{"m":"Grad desc (exact)","k":30,"v":9.12e-9},{"m":"Grad desc (exact)","k":32,"v":2.75e-9},{"m":"Grad desc (exact)","k":34,"v":8.32e-10},{"m":"Grad desc (exact)","k":36,"v":2.51e-10},{"m":"Grad desc (exact)","k":38,"v":7.59e-11},{"m":"Grad desc (exact)","k":40,"v":2.29e-11},{"m":"Grad desc (exact)","k":42,"v":6.92e-12}
],
"mcg": [
{"m":"Conj grad (exact)","k":1,"v":21.4},{"m":"Conj grad (exact)","k":2,"v":3.55},{"m":"Conj grad (exact)","k":3,"v":0.562},{"m":"Conj grad (exact)","k":4,"v":0.0851},{"m":"Conj grad (exact)","k":5,"v":0.0126},{"m":"Conj grad (exact)","k":6,"v":1.905e-3},{"m":"Conj grad (exact)","k":7,"v":3.02e-4},{"m":"Conj grad (exact)","k":8,"v":5.01e-5},{"m":"Conj grad (exact)","k":9,"v":8.91e-6},{"m":"Conj grad (exact)","k":10,"v":1.585e-6},{"m":"Conj grad (exact)","k":11,"v":2.24e-7},{"m":"Conj grad (exact)","k":12,"v":2.51e-8},{"m":"Conj grad (exact)","k":13,"v":2.51e-9},{"m":"Conj grad (exact)","k":14,"v":2.0e-10},{"m":"Conj grad (exact)","k":15,"v":1.12e-11},{"m":"Conj grad (exact)","k":16,"v":5.01e-13},{"m":"Conj grad (exact)","k":17,"v":2.0e-14}
],
"mgdl": [
{"m":"Grad desc (1/L)","k":1,"v":21.4},{"m":"Grad desc (1/L)","k":2,"v":7.94},{"m":"Grad desc (1/L)","k":3,"v":3.55},{"m":"Grad desc (1/L)","k":4,"v":1.66},{"m":"Grad desc (1/L)","k":5,"v":0.832},{"m":"Grad desc (1/L)","k":6,"v":0.447},{"m":"Grad desc (1/L)","k":8,"v":0.158},{"m":"Grad desc (1/L)","k":10,"v":0.0708},{"m":"Grad desc (1/L)","k":12,"v":0.0316},{"m":"Grad desc (1/L)","k":14,"v":0.0141},{"m":"Grad desc (1/L)","k":16,"v":6.31e-3},{"m":"Grad desc (1/L)","k":18,"v":2.82e-3},{"m":"Grad desc (1/L)","k":20,"v":1.26e-3},{"m":"Grad desc (1/L)","k":22,"v":5.75e-4},{"m":"Grad desc (1/L)","k":24,"v":2.69e-4},{"m":"Grad desc (1/L)","k":26,"v":1.26e-4},{"m":"Grad desc (1/L)","k":28,"v":6.03e-5},{"m":"Grad desc (1/L)","k":30,"v":2.88e-5},{"m":"Grad desc (1/L)","k":32,"v":1.41e-5},{"m":"Grad desc (1/L)","k":34,"v":7.08e-6},{"m":"Grad desc (1/L)","k":36,"v":3.55e-6},{"m":"Grad desc (1/L)","k":38,"v":1.78e-6},{"m":"Grad desc (1/L)","k":40,"v":8.91e-7},{"m":"Grad desc (1/L)","k":42,"v":4.47e-7}
],
"mag": [
{"m":"Accel grad (1/L)","k":1,"v":21.4},{"m":"Accel grad (1/L)","k":2,"v":7.08},{"m":"Accel grad (1/L)","k":3,"v":3.16},{"m":"Accel grad (1/L)","k":4,"v":1.48},{"m":"Accel grad (1/L)","k":5,"v":0.562},{"m":"Accel grad (1/L)","k":6,"v":0.178},{"m":"Accel grad (1/L)","k":7,"v":0.0631},{"m":"Accel grad (1/L)","k":8,"v":0.0178},{"m":"Accel grad (1/L)","k":9,"v":8.32e-3},{"m":"Accel grad (1/L)","k":10,"v":6.31e-3},{"m":"Accel grad (1/L)","k":11,"v":5.75e-3},{"m":"Accel grad (1/L)","k":12,"v":4.47e-3},{"m":"Accel grad (1/L)","k":13,"v":2.51e-3},{"m":"Accel grad (1/L)","k":14,"v":1.20e-3},{"m":"Accel grad (1/L)","k":15,"v":6.03e-4},{"m":"Accel grad (1/L)","k":16,"v":3.55e-4},{"m":"Accel grad (1/L)","k":17,"v":2.40e-4},{"m":"Accel grad (1/L)","k":18,"v":1.86e-4},{"m":"Accel grad (1/L)","k":19,"v":1.51e-4},{"m":"Accel grad (1/L)","k":20,"v":1.12e-4},{"m":"Accel grad (1/L)","k":21,"v":7.94e-5},{"m":"Accel grad (1/L)","k":22,"v":5.01e-5},{"m":"Accel grad (1/L)","k":23,"v":3.02e-5},{"m":"Accel grad (1/L)","k":24,"v":1.91e-5},{"m":"Accel grad (1/L)","k":25,"v":1.41e-5},{"m":"Accel grad (1/L)","k":26,"v":1.12e-5},{"m":"Accel grad (1/L)","k":27,"v":9.55e-6},{"m":"Accel grad (1/L)","k":28,"v":7.08e-6},{"m":"Accel grad (1/L)","k":29,"v":4.79e-6},{"m":"Accel grad (1/L)","k":30,"v":3.31e-6},{"m":"Accel grad (1/L)","k":31,"v":2.40e-6},{"m":"Accel grad (1/L)","k":32,"v":1.86e-6},{"m":"Accel grad (1/L)","k":33,"v":1.41e-6},{"m":"Accel grad (1/L)","k":34,"v":1.12e-6},{"m":"Accel grad (1/L)","k":35,"v":9.12e-7},{"m":"Accel grad (1/L)","k":36,"v":7.59e-7},{"m":"Accel grad (1/L)","k":37,"v":6.03e-7},{"m":"Accel grad (1/L)","k":38,"v":4.57e-7},{"m":"Accel grad (1/L)","k":39,"v":3.31e-7},{"m":"Accel grad (1/L)","k":40,"v":2.51e-7},{"m":"Accel grad (1/L)","k":41,"v":1.91e-7},{"m":"Accel grad (1/L)","k":42,"v":1.41e-7}
]
},
"encoding": {
 "x": {"field": "k", "type": "quantitative", "scale": {"domain": [-0.495, 41.98], "nice": false, "zero": false},
   "axis": {"values": [0, 10, 20, 30, 40], "title": "Iteration k", "labelBaseline": "alphabetic", "labelPadding": 28, "titleX": 212, "titleY": 76, "titleBaseline": "alphabetic", "titleAlign": "center"}},
 "y": {"field": "v", "type": "quantitative", "scale": {"type": "log", "domain": [2.8e-13, 151], "nice": false},
   "axis": {"values": [1e-12, 1e-9, 1e-6, 0.001, 1], "title": "Suboptimality fk−fstar", "labelAngle": -90, "labelAlign": "center", "labelBaseline": "alphabetic", "labelPadding": 13,
     "labelExpr": "datum.value > 0.1 ? '1e+00' : datum.value > 1e-4 ? '1e−03' : datum.value > 1e-7 ? '1e−06' : datum.value > 1e-10 ? '1e−09' : '1e−12'",
     "titleAngle": -90, "titleX": -70, "titleY": 213, "titleAlign": "center", "titleBaseline": "alphabetic"}}
},
"layer": [
 {"data": {"name": "cd"}, "mark": {"type": "line", "color": "#FF9999", "strokeWidth": 1.1, "clip": true}, "encoding": {"detail": {"field": "t", "type": "nominal"}}},
 {"data": {"name": "gd"}, "mark": {"type": "line", "color": "#99EB99", "strokeWidth": 1.2, "clip": true}, "encoding": {"detail": {"field": "t", "type": "nominal"}}},
 {"data": {"name": "cg"}, "mark": {"type": "line", "color": "#9999FF", "strokeWidth": 1.5, "clip": true}, "encoding": {"detail": {"field": "t", "type": "nominal"}}},
 {"data": {"name": "gdl"}, "mark": {"type": "line", "color": "#99FFFF", "strokeWidth": 1.2, "clip": true}, "encoding": {"detail": {"field": "t", "type": "nominal"}}},
 {"data": {"name": "agb"}, "mark": {"type": "area", "fill": "#FFAEFF", "fillOpacity": 1, "opacity": 1, "strokeWidth": 0, "clip": true}, "encoding": {"y2": {"field": "v2"}}},
 {"data": {"name": "ag"}, "mark": {"type": "line", "color": "#FF99FF", "strokeWidth": 1.2, "clip": true}, "encoding": {"detail": {"field": "t", "type": "nominal"}}},
 {"data": {"name": "mcd"}, "mark": {"type": "line", "strokeWidth": 4, "clip": true},
  "encoding": {"color": {"field": "m", "type": "nominal",
    "scale": {"domain": ["Coordinate desc", "Grad desc (exact)", "Conj grad (exact)", "Grad desc (1/L)", "Accel grad (1/L)"], "range": ["#FF0000", "#00CD00", "#0000FF", "#00FFFF", "#FF00FF"]},
    "legend": {"title": null, "orient": "none", "legendX": 214, "legendY": 0, "direction": "vertical"}}}},
 {"data": {"name": "mgd"}, "mark": {"type": "line", "strokeWidth": 4, "clip": true}, "encoding": {"color": {"field": "m", "type": "nominal"}}},
 {"data": {"name": "mcg"}, "mark": {"type": "line", "strokeWidth": 4, "clip": true}, "encoding": {"color": {"field": "m", "type": "nominal"}}},
 {"data": {"name": "mgdl"}, "mark": {"type": "line", "strokeWidth": 4, "clip": true}, "encoding": {"color": {"field": "m", "type": "nominal"}}},
 {"data": {"name": "mag"}, "mark": {"type": "line", "strokeWidth": 4, "clip": true}, "encoding": {"color": {"field": "m", "type": "nominal"}}}
]
}
